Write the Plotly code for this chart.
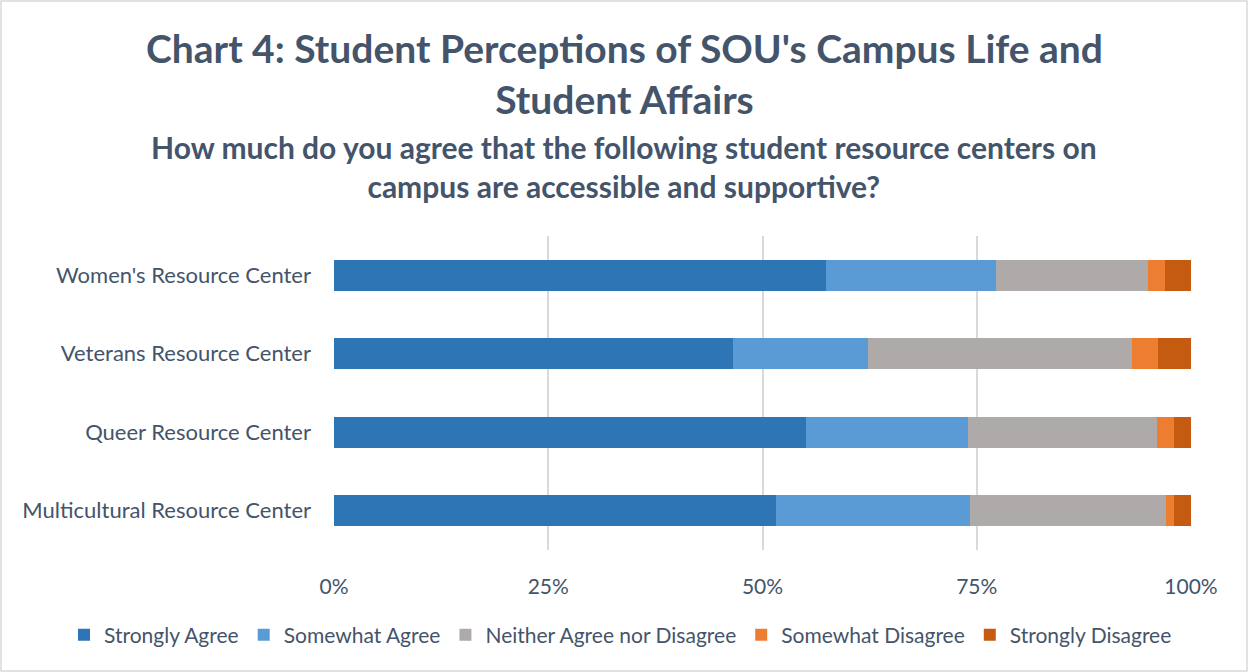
import plotly.graph_objects as go

# Survey categories (bottom to top as drawn)
centers = ["Multicultural Resource Center", "Queer Resource Center",
           "Veterans Resource Center", "Women's Resource Center"]

responses = ["Strongly Agree", "Somewhat Agree", "Neither Agree nor Disagree",
             "Somewhat Disagree", "Strongly Disagree"]

# Share of responses (%) per center, same order as `centers`
strongly_agree = [51.6, 55.1, 46.6, 57.4]
somewhat_agree = [22.6, 18.9, 15.7, 19.8]
neither = [22.85, 22.0, 30.8, 17.8]
somewhat_disagree = [0.95, 2.0, 3.0, 2.0]
strongly_disagree = [2.0, 2.0, 3.9, 3.0]

tick_vals = [0, 25, 50, 75, 100]
tick_text = ["0%", "25%", "50%", "75%", "100%"]

colors = ["#2E75B6", "#5B9BD5", "#AEAAAA", "#ED7D31", "#C55A11"]
series = [strongly_agree, somewhat_agree, neither, somewhat_disagree, strongly_disagree]

TEXT = "#44546A"
FONT = "Lato"

W, H = 1248, 672
ML, MR, MT, MB = 334, 57, 236, 122

fig = go.Figure()
for name, vals, col in zip(responses, series, colors):
    fig.add_trace(go.Bar(
        y=centers, x=vals, name=name, orientation="h",
        marker=dict(color=col, line=dict(width=0)),
    ))

pw = W - ML - MR
ph = H - MT - MB

fig.update_layout(
    width=W, height=H,
    barmode="stack", bargap=0.6,
    margin=dict(l=ML, r=MR, t=MT, b=MB, pad=0, autoexpand=False),
    paper_bgcolor="white", plot_bgcolor="white",
    font=dict(family=FONT, color=TEXT),
    xaxis=dict(range=[0, 100], tickvals=tick_vals, ticktext=tick_text,
               showgrid=True, gridcolor="#D9D9D9", gridwidth=1.5,
               zeroline=False, showline=False, ticks="",
               tickfont=dict(size=21, color=TEXT), ticklabelstandoff=22),
    yaxis=dict(showgrid=False, zeroline=False, showline=False, ticks="",
               tickfont=dict(size=22, color=TEXT), ticklabelstandoff=22),
    legend=dict(orientation="h", x=(64 - ML) / pw, xanchor="left",
                y=-(635 - (H - MB)) / ph, yanchor="middle",
                font=dict(size=21, color=TEXT), traceorder="normal",
                itemwidth=30),
    annotations=[
        dict(text="Chart 4: Student Perceptions of SOU's Campus Life and<br>Student Affairs",
             xref="paper", yref="paper",
             x=(W / 2 - ML) / pw, y=(H - MB - 74) / ph,
             xanchor="center", yanchor="middle", showarrow=False,
             font=dict(size=39, color=TEXT, family=FONT, weight="bold")),
        dict(text="How much do you agree that the following student resource centers on<br>campus are accessible and supportive?",
             xref="paper", yref="paper",
             x=(W / 2 - ML) / pw, y=(H - MB - 166) / ph,
             xanchor="center", yanchor="middle", showarrow=False,
             font=dict(size=30, color=TEXT, family=FONT, weight="bold")),
    ],
    shapes=[dict(type="rect", xref="paper", yref="paper",
                 x0=-(ML - 1) / pw, x1=1 + (MR - 1) / pw,
                 y0=-(MB - 1) / ph, y1=1 + (MT - 1) / ph,
                 line=dict(color="#D9D9D9", width=1.5), layer="below")],
)

fig.write_html("out.html")
